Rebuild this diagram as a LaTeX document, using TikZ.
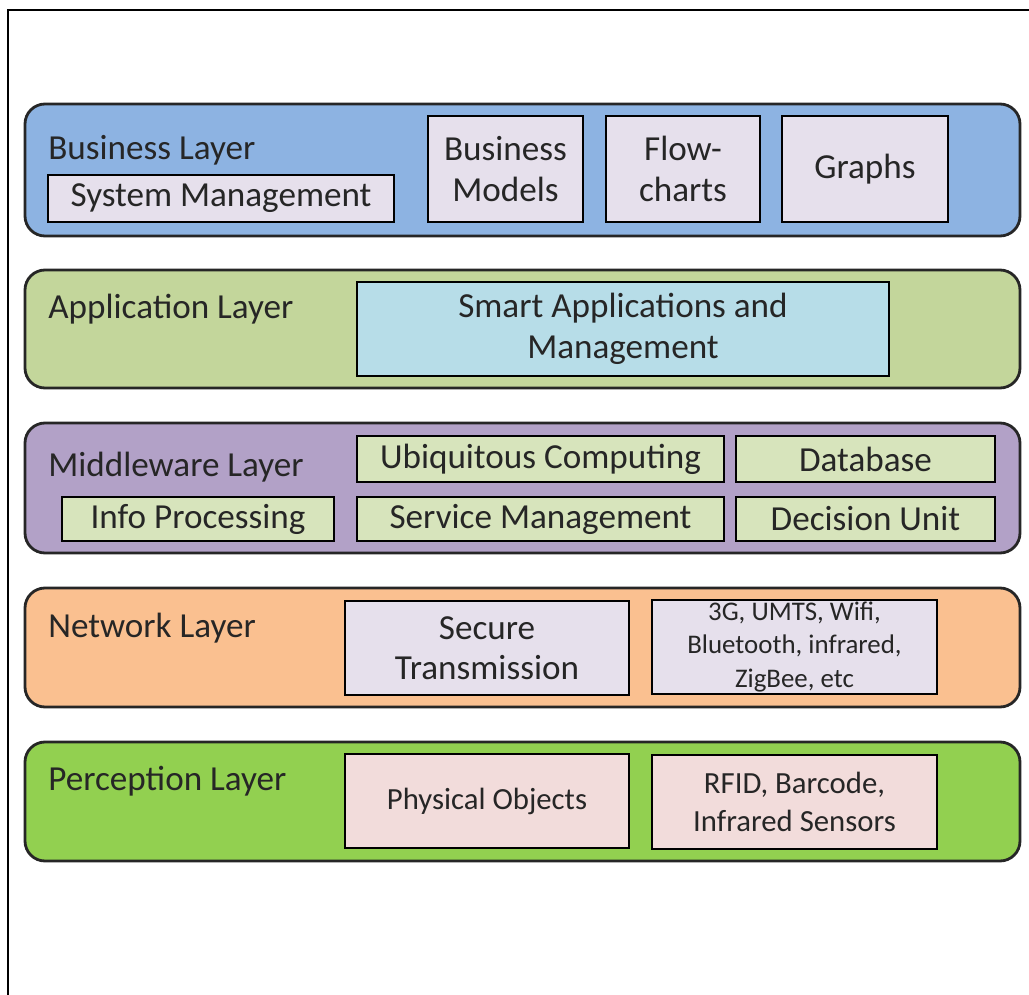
\documentclass[tikz,border=0pt]{standalone}
\usepackage{fontspec}
\setmainfont{Carlito}
\usepackage{tikz}
\usetikzlibrary{positioning}

\definecolor{bizblue}{HTML}{8DB3E2}
\definecolor{appgreen}{HTML}{C3D69B}
\definecolor{midviolet}{HTML}{B2A1C7}
\definecolor{netorange}{HTML}{FAC090}
\definecolor{percgreen}{HTML}{92D050}
\definecolor{lilac}{HTML}{E6E0EC}
\definecolor{paleblue}{HTML}{B7DDE8}
\definecolor{palegreen}{HTML}{D7E4BC}
\definecolor{palerose}{HTML}{F2DCDB}

\begin{document}
\begin{tikzpicture}[
  x=0.02cm, y=-0.02cm,
  font=\fontsize{20}{23}\selectfont,
  schicht/.style={
    draw=black!85,
    line width=1.6pt,
    rounded corners=0.4cm
  },
  kasten/.style={
    draw=black,
    line width=1.6pt,
    align=center,
    inner sep=0pt,
    text=black!85
  },
  klein/.style={
    font=\fontsize{17.5}{21.6}\selectfont
  },
  winzig/.style={
    font=\fontsize{15.3}{18.8}\selectfont
  },
  titel/.style={
    anchor=west,
    inner sep=0pt,
    text=black!85
  }
]
  \useasboundingbox (0,0) rectangle (1029,995);
  \draw[line width=1.2pt] (8,995) -- (8,10) -- (1029,10);

  % layer bands
  \draw[schicht, fill=bizblue]  (25,104) rectangle (1020,236);
  \draw[schicht, fill=appgreen] (25,270) rectangle (1020,388);
  \draw[schicht, fill=midviolet](25,423) rectangle (1020,553);
  \draw[schicht, fill=netorange](25,588) rectangle (1020,707);
  \draw[schicht, fill=percgreen](25,742) rectangle (1020,861);

  % business layer
  \node[titel] (biz) at (48,150) {Business Layer};
  \node[kasten, fill=lilac, minimum width=6.92cm, minimum height=0.94cm] (sysmgmt) at (221,198.5) {System Management};
  \node[kasten, fill=lilac, minimum width=3.1cm, minimum height=2.12cm] (models) at (505.5,169) {Business\\Models};
  \node[kasten, fill=lilac, minimum width=3.08cm, minimum height=2.12cm] (flow) at (683,169) {Flow-\\charts};
  \node[kasten, fill=lilac, minimum width=3.32cm, minimum height=2.12cm] (graphs) at (865,169) {Graphs};

  % application layer
  \node[titel] (app) at (48,309) {Application Layer};
  \node[kasten, fill=paleblue, minimum width=10.64cm, minimum height=1.88cm] (smart) at (623,329) {Smart Applications and\\Management};

  % middleware layer
  \node[titel] (mid) at (48,467) {Middleware Layer};
  \node[kasten, fill=palegreen, minimum width=7.34cm, minimum height=0.92cm] (ubi) at (540.5,459) {Ubiquitous Computing};
  \node[kasten, fill=palegreen, minimum width=5.18cm, minimum height=0.92cm] (db) at (865.5,459) {Database};
  \node[kasten, fill=palegreen, minimum width=5.44cm, minimum height=0.88cm] (info) at (198,519) {Info Processing};
  \node[kasten, fill=palegreen, minimum width=7.34cm, minimum height=0.88cm] (service) at (540.5,519) {Service Management};
  \node[kasten, fill=palegreen, minimum width=5.18cm, minimum height=0.88cm] (decision) at (865.5,519) {Decision Unit};

  % network layer
  \node[titel] (net) at (48,628) {Network Layer};
  \node[kasten, fill=lilac, minimum width=5.68cm, minimum height=1.88cm] (secure) at (487,648) {Secure\\Transmission};
  \node[kasten, winzig, fill=lilac, minimum width=5.7cm, minimum height=1.88cm] (radio) at (794.5,647) {3G, UMTS, Wifi,\\Bluetooth, infrared,\\ZigBee, etc};

  % perception layer
  \node[titel] (perc) at (48,781) {Perception Layer};
  \node[kasten, klein, fill=palerose, minimum width=5.68cm, minimum height=1.88cm] (objects) at (487,801) {Physical Objects};
  \node[kasten, klein, fill=palerose, minimum width=5.7cm, minimum height=1.88cm] (sensors) at (794.5,802) {RFID, Barcode,\\Infrared Sensors};
\end{tikzpicture}
\end{document}
